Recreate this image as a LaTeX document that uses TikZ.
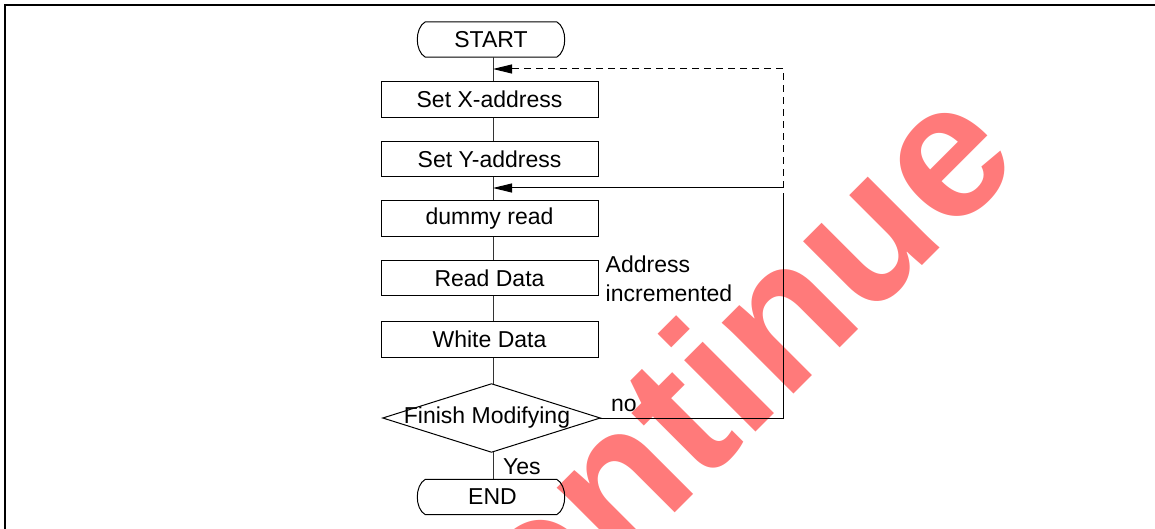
\documentclass[tikz,border=0pt]{standalone}
\usepackage{fontspec}
\setmainfont{Liberation Sans}
\usetikzlibrary{arrows.meta}
\definecolor{wmred}{RGB}{255,122,122}
\newcommand\diagfont{\fontsize{23}{29}\selectfont}
\begin{document}
\begin{tikzpicture}[x=1pt,y=-1pt,
  line/.style={draw=black,line width=1pt},
  conn/.style={draw=black!80,line width=1pt},
  arr/.style={line,-{Triangle[length=19pt,width=9pt]}},
  dashline/.style={line,dash pattern=on 7pt off 5pt},
  stepbox/.style={line,minimum width=217pt,minimum height=35.5pt,inner sep=0pt,font=\diagfont},
  term/.style={minimum width=131pt,minimum height=35pt,inner sep=0pt,font=\diagfont},
  decision/.style={minimum width=217pt,minimum height=68pt,inner sep=0pt,font=\diagfont},
  lbl/.style={inner sep=0pt,font=\diagfont},
  wmark/.style={anchor=base west,rotate=45,inner sep=0pt,text=wmred,font=\fontsize{191}{191}\selectfont\bfseries},
  frameline/.style={draw=black,line width=2pt}]
\useasboundingbox (0,0) rectangle (1155,529);
\clip (0,0) rectangle (1155,529);
% watermark
\node[wmark] (wm) at (251.5,936.8) {Discontinue};
% frame
\draw[frameline] (5,529) -- (5,5) -- (1155,5);
% axes
\coordinate (ax) at (493,0);
\coordinate (rc) at (783,0);
% terminators
\node[term] (start) at (491,39.5) {START};
\draw[line] (start.north west) -- (start.north east)
  .. controls +(10.7,6) and +(10.7,-6) .. (start.south east)
  -- (start.south west)
  .. controls +(-10.7,-6) and +(-10.7,6) .. (start.north west) -- cycle;
\node[term] (end) at (491,497) {\kern3pt END};
\draw[line] (end.north west) -- (end.north east)
  .. controls +(10.7,6) and +(10.7,-6) .. (end.south east)
  -- (end.south west)
  .. controls +(-10.7,-6) and +(-10.7,6) .. (end.north west) -- cycle;
% process boxes
\node[stepbox] (bx) at (489.5,99.5) {Set X-address};
\node[stepbox] (by) at (489.5,159) {Set Y-address};
\node[stepbox] (bd) at (489.5,218.5) {dummy read};
\node[stepbox] (br) at (489.5,278) {Read Data};
\node[stepbox] (bw) at (489.5,339.5) {White Data};
% decision
\node[decision] (dec) at (491.5,418) {\kern-9pt Finish Modifying};
\draw[line] (dec.west) -- (dec.north) -- (dec.east) -- (dec.south) -- cycle;
% main connectors
\draw[conn] (start.south -| ax) -- (bx.north -| ax);
\draw[conn] (bx.south -| ax) -- (by.north -| ax);
\draw[conn] (by.south -| ax) -- (bd.north -| ax);
\draw[conn] (bd.south -| ax) -- (br.north -| ax);
\draw[conn] (br.south -| ax) -- (bw.north -| ax);
\draw[conn] (bw.south -| ax) -- (dec.north -| ax);
\draw[conn] (dec.south -| ax) -- (end.north -| ax);
% loop back
\coordinate (sg) at (783,193);
\coordinate (sa) at (783,188);
\coordinate (da) at (783,69);
\draw[line] (dec.east) -| (sg);
\draw[arr] (sa) -- (sa -| ax);
\draw[dashline] (sa) -- (da);
\draw[arr,dash pattern=on 7pt off 5pt] (da) -- (da -| ax);
% labels
\node[lbl,anchor=base west] (no) at (611,411) {no};
\node[lbl,anchor=base west] (yes) at (503,474) {Yes};
\node[lbl,anchor=north west,align=left] (inc) at (605.5,255.5) {Address\\incremented};
\end{tikzpicture}
\end{document}
